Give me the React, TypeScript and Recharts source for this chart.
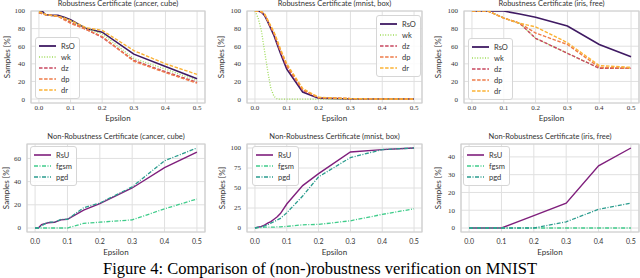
import React from 'react';
import { LineChart, Line, XAxis, YAxis, CartesianGrid, ReferenceArea } from 'recharts';

// epsilon grids
const epsCancer = [0, 0.01, 0.02, 0.04, 0.06, 0.08, 0.1, 0.15, 0.2, 0.3, 0.4, 0.5];
const epsMnist = [0, 0.01, 0.02, 0.03, 0.04, 0.05, 0.06, 0.07, 0.08, 0.1, 0.15, 0.2, 0.3, 0.4, 0.5];
const epsIris = [0, 0.05, 0.1, 0.15, 0.2, 0.3, 0.4, 0.5];
const epsIrisU = [0, 0.1, 0.2, 0.3, 0.4, 0.5];
const epsTicks = [0, 0.1, 0.2, 0.3, 0.4, 0.5];

// robustness certificate (cancer, cube)
const cancerRsO = [100, 100, 96, 95, 95, 93, 90, 80, 76, 51, 37, 23];
const cancerWk = [99, 98, 96, 95, 94, 92, 89, 80, 74, 46, 34, 21];
const cancerDz = [98, 97, 96, 95, 94, 91, 87, 79, 70, 44, 31, 19];
const cancerDp = [98, 97, 96, 95, 94, 90, 86, 79, 71, 43, 30, 18];
const cancerDr = [99, 98, 96, 95, 94, 92, 89, 81, 78, 55, 40, 28];

// robustness certificate (mnist, box)
const mnistRsO = [100, 100, 99, 95, 88, 80, 72, 62, 52, 34, 8, 1, 0, 0, 0];
const mnistWk = [100, 92, 78, 55, 32, 12, 3, 0, 0, 0, 0, 0, 0, 0, 0];
const mnistDz = [100, 100, 99, 96, 89, 81, 74, 64, 54, 37, 10, 1.5, 0.5, 0, 0];
const mnistDp = [100, 100, 99, 96, 89, 82, 75, 65, 55, 38, 10.5, 1.5, 0.5, 0, 0];
const mnistDr = [100, 100, 99.5, 97, 90, 83, 76, 67, 57, 40, 12, 2, 0.5, 0, 0];

// robustness certificate (iris, free)
const irisRsO = [100, 100, 100, 96.5, 93, 83, 62, 48];
const irisWk = [100, 100, 92, 86, 69, 52, 35, 35];
const irisDz = [100, 100, 92, 86, 69, 52, 35, 35];
const irisDp = [100, 100, 92, 86, 75, 62, 36, 35];
const irisDr = [100, 100, 92, 86, 82, 64, 38, 36];

// non-robustness certificate
const cancerRsU = [0, 0, 3, 4.5, 5, 7, 7.5, 15.5, 21, 34.5, 52, 65.5];
const cancerFgsm = [0, 0, 0, 0, 0, 0, 0, 4, 5, 7, 16.5, 25];
const cancerPgd = [0, 0, 2, 5, 5, 7.5, 7.5, 17.5, 21.5, 35.5, 58, 69];

const mnistRsU = [0, 1, 2, 3.5, 6, 8, 11, 14, 18, 30, 53, 68, 95, 98, 100];
const mnistFgsm = [0, 0.5, 0.5, 1, 1, 1, 1, 1.5, 1.5, 2, 4, 4.5, 9, 17, 24];
const mnistPgd = [0, 1, 1.5, 2.5, 4, 6, 8, 10, 12, 19, 40, 64, 88, 98, 100];

const irisRsU = [0, 0, 7, 14, 35, 45];
const irisFgsm = [0, 0, 0, 0, 0, 0];
const irisPgd = [0, 0, 0, 3.5, 10.5, 14];

const SANS = 'Lato, "Open Sans", sans-serif';
const SERIF = '"Liberation Serif", "DejaVu Serif", serif';
const TEXT = '#333333';

const styleOf: Record<string, { color: string; dash?: string; width: number }> = {
  RsO: { color: '#3f1a63', width: 1.6 },
  wk: { color: '#9fdc5a', dash: '1 1.6', width: 1.3 },
  dz: { color: '#c8475f', dash: '3.5 1.6', width: 1.4 },
  dp: { color: '#ee7b48', dash: '3.5 1.6', width: 1.4 },
  dr: { color: '#fbb234', dash: '3.5 1.6', width: 1.4 },
  RsU: { color: '#7f1f7c', width: 1.4 },
  fgsm: { color: '#3fcc8a', dash: '4 1.5 1 1.5', width: 1.3 },
  pgd: { color: '#2a9c8e', dash: '4 1.5 1 1.5', width: 1.3 },
};

type Series = { name: string; values: number[] };
type Frame = { x0: number; x1: number; y0: number; y1: number };

const YW = 34;
const TOP = 14;
const XH = 28;

function Legend({ series, left, top }: { series: Series[]; left: number; top: number }) {
  return (
    <div
      style={{
        position: 'absolute', left, top, padding: '2.5px 4px 2.5px 3px',
        background: 'rgba(255,255,255,0.85)', border: '1px solid #d6d6d6', borderRadius: 3,
        fontFamily: SANS, fontSize: 7.5, color: TEXT,
      }}
    >
      {series.map((s) => {
        const st = styleOf[s.name];
        return (
          <div key={s.name} style={{ display: 'flex', alignItems: 'center', height: 11 }}>
            <svg width={17} height={6} style={{ marginRight: 5 }}>
              <line x1={0} y1={3} x2={17} y2={3} stroke={st.color} strokeWidth={st.width + 0.2} strokeDasharray={st.dash} />
            </svg>
            <span>{s.name}</span>
          </div>
        );
      })}
    </div>
  );
}

function Panel(props: {
  title: string; eps: number[]; series: Series[]; frame: Frame;
  yDomain: [number, number]; yTicks: number[]; legend: { left: number; top: number };
  titleY: number; tickGap: number; labelGap: number; yLabelGap: number; xTickFont: string;
}) {
  const { title, eps, series, frame, yDomain, yTicks, legend, titleY, tickGap, labelGap, yLabelGap, xTickFont } = props;
  const data = eps.map((e, i) => {
    const row: Record<string, number> = { eps: e };
    series.forEach((s) => { row[s.name] = s.values[i]; });
    return row;
  });
  const w = frame.x1 - frame.x0;
  const h = frame.y1 - frame.y0;

  const yLabel = (p: any) => {
    const { x, y, width, height } = p.viewBox;
    return (
      <text transform={`translate(${x + width - yLabelGap},${y + height / 2}) rotate(-90)`} textAnchor="middle"
        dominantBaseline="central" fontSize={8} fontFamily={SANS} fill={TEXT}>Samples [%]</text>
    );
  };
  const xLabel = (p: any) => {
    const { x, y, width } = p.viewBox;
    return (
      <text x={x + width / 2} y={y + labelGap} textAnchor="middle" dominantBaseline="central"
        fontSize={8} fontFamily={SANS} fill={TEXT}>Epsilon</text>
    );
  };

  return (
    <>
      <div style={{ position: 'absolute', left: frame.x0 - YW, top: frame.y0 - TOP }}>
        <LineChart width={w + YW + 2} height={h + TOP + XH} data={data} margin={{ top: TOP, right: 2, left: 0, bottom: 0 }}>
          <CartesianGrid stroke="#e0e0e0" strokeWidth={1} />
          <XAxis type="number" dataKey="eps" domain={[-0.025, 0.525]} ticks={epsTicks} allowDataOverflow
            tickFormatter={(v: number) => v.toFixed(1)} axisLine={false} tickLine={false} tickSize={0}
            tickMargin={tickGap} height={XH} interval={0}
            tick={{ fontSize: 7, fill: TEXT, fontFamily: xTickFont }} label={xLabel} />
          <YAxis type="number" domain={yDomain} ticks={yTicks} allowDataOverflow width={YW}
            axisLine={false} tickLine={false} tickSize={0} tickMargin={6} interval={0}
            tick={{ fontSize: 7, fill: TEXT, fontFamily: SERIF }} label={yLabel} />
          <ReferenceArea x1={-0.025} x2={0.525} y1={yDomain[0]} y2={yDomain[1]} fill="none" fillOpacity={0}
            stroke="#cfcfcf" strokeWidth={1.2} />
          {series.map((s) => {
            const st = styleOf[s.name];
            return (
              <Line key={s.name} type="linear" dataKey={s.name} stroke={st.color} strokeWidth={st.width}
                strokeDasharray={st.dash} dot={false} activeDot={false} isAnimationActive={false} />
            );
          })}
        </LineChart>
      </div>
      <div style={{
        position: 'absolute', left: frame.x0 - 20, width: w + 40, top: titleY - 5, height: 10, lineHeight: '10px',
        textAlign: 'center', fontFamily: SANS, fontSize: 7.5, color: TEXT, whiteSpace: 'nowrap',
      }}>{title}</div>
      <Legend series={series} left={legend.left} top={legend.top} />
    </>
  );
}

const topFrame = (x0: number, x1: number): Frame => ({ x0, x1, y0: 11, y1: 103 });
const botFrame = (x0: number, x1: number): Frame => ({ x0, x1, y0: 144, y1: 232 });

export default function App() {
  return (
    <div style={{ position: 'fixed', left: 0, top: 0, width: 640, height: 278, overflow: 'hidden', background: '#fff' }}>
      <Panel title="Robustness Certificate (cancer, cube)" eps={epsCancer}
        series={[{ name: 'RsO', values: cancerRsO }, { name: 'wk', values: cancerWk }, { name: 'dz', values: cancerDz },
          { name: 'dp', values: cancerDp }, { name: 'dr', values: cancerDr }]}
        frame={topFrame(31, 205)} yDomain={[-4.5, 100]} yTicks={[0, 20, 40, 60, 80, 100]}
        legend={{ left: 35, top: 37 }} titleY={4} tickGap={2} labelGap={15} yLabelGap={24} xTickFont={SERIF} />
      <Panel title="Robustness Certificate (mnist, box)" eps={epsMnist}
        series={[{ name: 'RsO', values: mnistRsO }, { name: 'wk', values: mnistWk }, { name: 'dz', values: mnistDz },
          { name: 'dp', values: mnistDp }, { name: 'dr', values: mnistDr }]}
        frame={topFrame(247, 422)} yDomain={[-4.5, 100]} yTicks={[0, 20, 40, 60, 80, 100]}
        legend={{ left: 376, top: 15 }} titleY={4} tickGap={2} labelGap={15} yLabelGap={26} xTickFont={SERIF} />
      <Panel title="Robustness Certificate (iris, free)" eps={epsIris}
        series={[{ name: 'RsO', values: irisRsO }, { name: 'wk', values: irisWk }, { name: 'dz', values: irisDz },
          { name: 'dp', values: irisDp }, { name: 'dr', values: irisDr }]}
        frame={topFrame(464, 639)} yDomain={[-4.5, 100]} yTicks={[0, 20, 40, 60, 80, 100]}
        legend={{ left: 468, top: 38 }} titleY={4} tickGap={2} labelGap={15} yLabelGap={26} xTickFont={SERIF} />

      <Panel title="Non-Robustness Certificate (cancer, cube)" eps={epsCancer}
        series={[{ name: 'RsU', values: cancerRsU }, { name: 'fgsm', values: cancerFgsm }, { name: 'pgd', values: cancerPgd }]}
        frame={botFrame(27, 205)} yDomain={[-3.45, 72.45]} yTicks={[0, 20, 40, 60]}
        legend={{ left: 30, top: 146 }} titleY={137} tickGap={7} labelGap={20} yLabelGap={21} xTickFont={SANS} />
      <Panel title="Non-Robustness Certificate (mnist, box)" eps={epsMnist}
        series={[{ name: 'RsU', values: mnistRsU }, { name: 'fgsm', values: mnistFgsm }, { name: 'pgd', values: mnistPgd }]}
        frame={botFrame(247, 422)} yDomain={[-5, 105]} yTicks={[0, 25, 50, 75, 100]}
        legend={{ left: 252, top: 146 }} titleY={137} tickGap={7} labelGap={20} yLabelGap={25} xTickFont={SANS} />
      <Panel title="Non-Robustness Certificate (iris, free)" eps={epsIrisU}
        series={[{ name: 'RsU', values: irisRsU }, { name: 'fgsm', values: irisFgsm }, { name: 'pgd', values: irisPgd }]}
        frame={botFrame(461, 639)} yDomain={[-2.25, 47.25]} yTicks={[0, 10, 20, 30, 40]}
        legend={{ left: 463, top: 146 }} titleY={137} tickGap={7} labelGap={20} yLabelGap={23} xTickFont={SANS} />

      <div style={{
        position: 'absolute', left: 0, width: 640, top: 259, textAlign: 'center',
        fontFamily: SERIF, fontSize: 16.5, color: '#000', whiteSpace: 'nowrap', lineHeight: '19px',
      }}>Figure 4: Comparison of (non-)robustness verification on MNIST</div>
    </div>
  );
}
